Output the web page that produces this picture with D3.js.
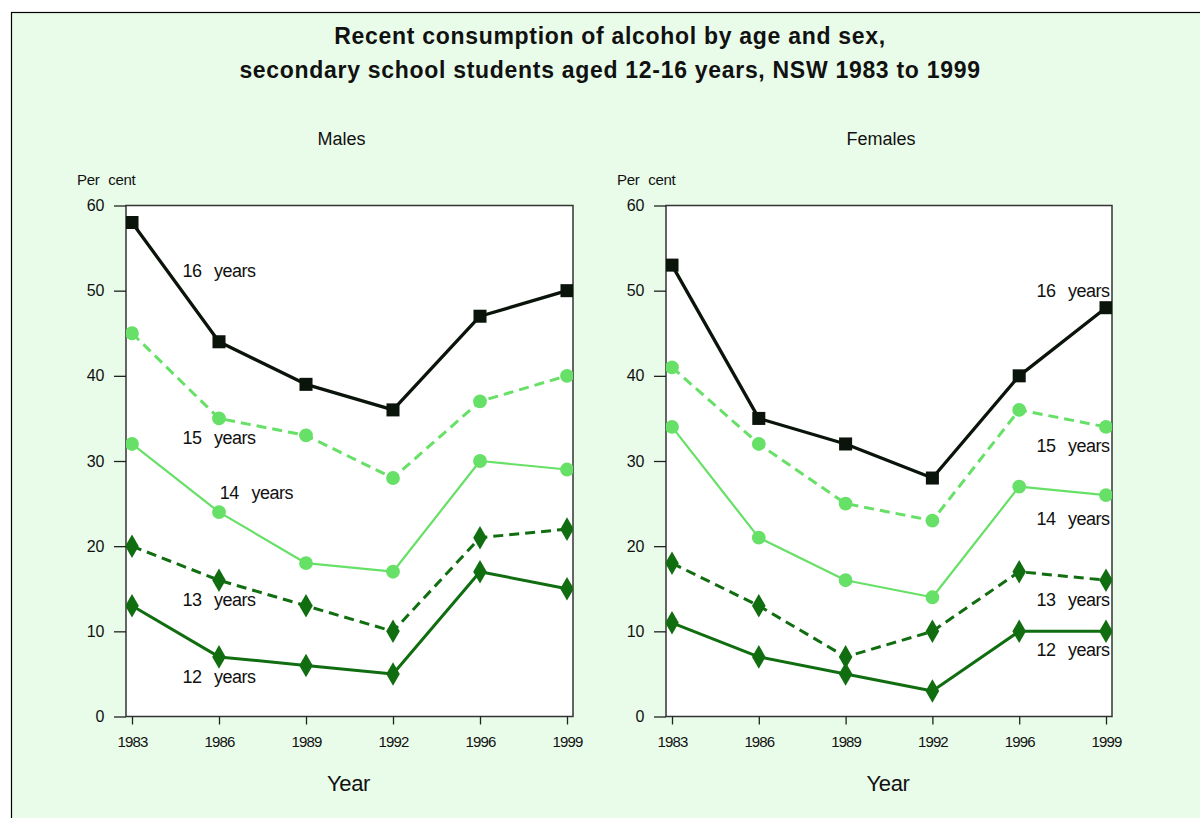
<!DOCTYPE html>
<html>
<head>
<meta charset="utf-8">
<script src="https://cdn.jsdelivr.net/npm/d3@7"></script>
<style>
  body { margin: 0; background: #fff; }
  text { font-family: "Liberation Sans", Arial, sans-serif; fill: #111; }
</style>
</head>
<body>
<div id="chart"></div>
<script>
var width = 1200,
    height = 818

// data
var years = ["1983", "1986", "1989", "1992", "1996", "1999"];
var ages = ["16 years", "15 years", "14 years", "13 years", "12 years"];

var males16 = [58, 44, 39, 36, 47, 50];
var males15 = [45, 35, 33, 28, 37, 40];
var males14 = [32, 24, 18, 17, 30, 29];
var males13 = [20, 16, 13, 10, 21, 22];
var males12 = [13, 7, 6, 5, 17, 15];

var females16 = [53, 35, 32, 28, 40, 48];
var females15 = [41, 32, 25, 23, 36, 34];
var females14 = [34, 21, 16, 14, 27, 26];
var females13 = [18, 13, 7, 10, 17, 16];
var females12 = [11, 7, 5, 3, 10, 10];

var yTicks = [0, 10, 20, 30, 40, 50, 60];

// where the "NN years" labels sit, in (year index, per cent) units
var malesLabelAt = [[0.58, 52.3], [0.58, 32.7], [1.01, 26.3], [0.58, 13.7], [0.58, 4.7]];
var femalesLabelAt = [[5.04, 50.0], [5.04, 31.8], [5.04, 23.2], [5.04, 13.7], [5.04, 7.8]];

var styles = [
  {color: "#0b140b", width: 3.3, dash: null, shape: "square"},
  {color: "#66e066", width: 3, dash: "10,6", shape: "circle"},
  {color: "#66e066", width: 2.2, dash: null, shape: "circle"},
  {color: "#106e10", width: 3, dash: "10,6", shape: "diamond"},
  {color: "#106e10", width: 3, dash: null, shape: "diamond"}
];

var svg = d3.select("#chart").append("svg")
    .attr("width", width)
    .attr("height", height);

svg.append("rect")
    .attr("x", 11.5).attr("y", 12.5)
    .attr("width", width + 10).attr("height", height + 10)
    .attr("fill", "#e9fce9")
    .attr("stroke", "#000")
    .attr("stroke-width", 1.2);

var title = svg.append("text")
    .attr("text-anchor", "middle")
    .style("font-size", "23px")
    .style("font-weight", "bold")
    .style("letter-spacing", "0.7px");
title.append("tspan").attr("x", 610).attr("y", 44).text("Recent consumption of alcohol by age and sex,");
title.append("tspan").attr("x", 610).attr("y", 78).text("secondary school students aged 12-16 years, NSW 1983 to 1999");

var y = d3.scaleLinear().domain([0, 60]).range([716.5, 205.5]);

function panel(name, x0, x1, series, labelAt, id) {
  var x = d3.scalePoint().domain(years).range([x0 + 6, x1 - 6]);
  var step = x.step();

  var g = svg.append("g");

  svg.append("text")
      .attr("x", (x0 + x1) / 2 - 8).attr("y", 145)
      .attr("text-anchor", "middle")
      .style("font-size", "18px")
      .text(name);

  svg.append("text")
      .attr("x", x0 - 49).attr("y", 185)
      .style("font-size", "15px")
      .style("letter-spacing", "-0.3px")
      .style("word-spacing", "5px")
      .text("Per cent");

  g.append("rect")
      .attr("x", x0).attr("y", y(60))
      .attr("width", x1 - x0).attr("height", y(0) - y(60))
      .attr("fill", "#fff")
      .attr("stroke", "#333")
      .attr("stroke-width", 1.5);

  g.append("clipPath").attr("id", id)
    .append("rect")
      .attr("x", x0).attr("y", y(60))
      .attr("width", x1 - x0).attr("height", y(0) - y(60));

  // y axis
  var ya = g.append("g")
      .attr("transform", "translate(" + x0 + ",0)")
      .call(d3.axisLeft(y).tickValues(yTicks).tickSize(12).tickPadding(10));
  ya.select(".domain").remove();
  ya.selectAll("line").attr("stroke", "#222").attr("stroke-width", 1.3);
  ya.selectAll("text")
      .style("font-size", "16px")
      .style("letter-spacing", "-0.3px")
      .attr("fill", "#111");

  // x axis
  var xa = g.append("g")
      .attr("transform", "translate(0," + y(0) + ")")
      .call(d3.axisBottom(x).tickSize(8).tickPadding(12));
  xa.select(".domain").remove();
  xa.selectAll("line").attr("stroke", "#222").attr("stroke-width", 1.3);
  xa.selectAll("text")
      .style("font-size", "15px")
      .style("letter-spacing", "-0.9px")
      .attr("fill", "#111");

  svg.append("text")
      .attr("x", (x0 + x1) / 2 - 1).attr("y", 791)
      .attr("text-anchor", "middle")
      .style("font-size", "22px")
      .style("letter-spacing", "-0.4px")
      .text("Year");

  var lines = g.append("g").attr("clip-path", "url(#" + id + ")");

  var line = d3.line()
      .x(function(d, i) { return x(years[i]); })
      .y(function(d) { return y(d); });

  // draw bottom series first so the black line sits on top
  for (var k = series.length - 1; k >= 0; k--) {
    var s = styles[k];
    lines.append("path")
        .datum(series[k])
        .attr("d", line)
        .attr("fill", "none")
        .attr("stroke", s.color)
        .attr("stroke-width", s.width)
        .attr("stroke-dasharray", s.dash)
        .attr("stroke-linejoin", "round");

    var sym = s.shape == "square" ? d3.symbolSquare : s.shape == "circle" ? d3.symbolCircle : d3.symbolDiamond;
    var size = s.shape == "square" ? 170 : s.shape == "circle" ? 150 : 160;
    lines.selectAll(".m" + k)
        .data(series[k])
        .enter().append("path")
        .attr("class", "m" + k)
        .attr("transform", function(d, i) { return "translate(" + x(years[i]) + "," + y(d) + ")"; })
        .attr("d", d3.symbol().type(sym).size(size))
        .attr("fill", s.color);
  }

  ages.forEach(function(a, k) {
    var p = labelAt[k];
    g.append("text")
        .attr("x", x(years[0]) + p[0] * step)
        .attr("y", y(p[1]))
        .attr("dy", "0.35em")
        .attr("text-anchor", p[0] > 5 ? "end" : "start")
        .style("font-size", "18px")
        .style("letter-spacing", "-0.5px")
        .style("word-spacing", "8px")
        .text(a);
  });
}

panel("Males", 126, 573, [males16, males15, males14, males13, males12], malesLabelAt, "clipM");
panel("Females", 666, 1112, [females16, females15, females14, females13, females12], femalesLabelAt, "clipF");
</script>
</body>
</html>
